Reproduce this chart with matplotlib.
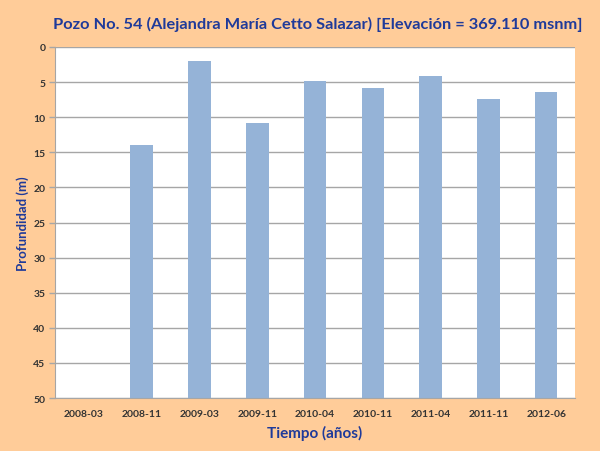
import matplotlib.pyplot as plt
import numpy as np

fechas = ["2008-03", "2008-11", "2009-03", "2009-11", "2010-04",
          "2010-11", "2011-04", "2011-11", "2012-06"]
profundidad = [np.nan, 14.0, 2.0, 10.8, 4.8, 5.8, 4.1, 7.35, 6.4]
fondo = 50

azul = "#1F3A9A"
plt.rcParams['font.family'] = ['Lato', 'DejaVu Sans']

fig = plt.figure(figsize=(6, 4.52), dpi=100, facecolor="#FFCC99")
ax = fig.add_axes([0.0917, 0.117, 0.8667, 0.777])
ax.set_facecolor("white")

x = np.arange(len(fechas))
alturas = [fondo - v for v in profundidad]
ax.bar(x, alturas, bottom=profundidad, width=0.39, color="#95B3D7", zorder=2)

ax.set_ylim(fondo, 0)
ax.set_xlim(-0.5, len(fechas) - 0.5)
ax.set_yticks(np.arange(0, 51, 5))
ax.set_xticks(x)
ax.set_xticklabels(fechas)
ax.grid(axis="y", color="#A6A6A6", linewidth=1, zorder=0)
ax.tick_params(axis="x", length=0, pad=8, labelsize=7.5, colors="#333333")
ax.tick_params(axis="y", length=4, width=1, color="#A6A6A6", labelsize=7.5,
               labelcolor="#333333", pad=3)
for lab in ax.get_xticklabels() + ax.get_yticklabels():
    lab.set_fontweight("bold")
for s in ["top", "right"]:
    ax.spines[s].set_visible(False)
for s in ["left", "bottom"]:
    ax.spines[s].set_color("#A6A6A6")

fig.text(318 / 600, 1 - 24 / 452,
         "Pozo No. 54 (Alejandra María Cetto Salazar) [Elevación = 369.110 msnm]",
         fontsize=11.8, fontweight="bold", color=azul, ha="center", va="center")
ax.set_xlabel("Tiempo (años)", fontsize=11, fontweight="bold", color=azul, labelpad=5)
ax.set_ylabel("Profundidad (m)", fontsize=9.5, fontweight="bold", color=azul)
ax.yaxis.set_label_coords(-0.05, 0.5)

fig.savefig("out.png", dpi=100, facecolor=fig.get_facecolor())
